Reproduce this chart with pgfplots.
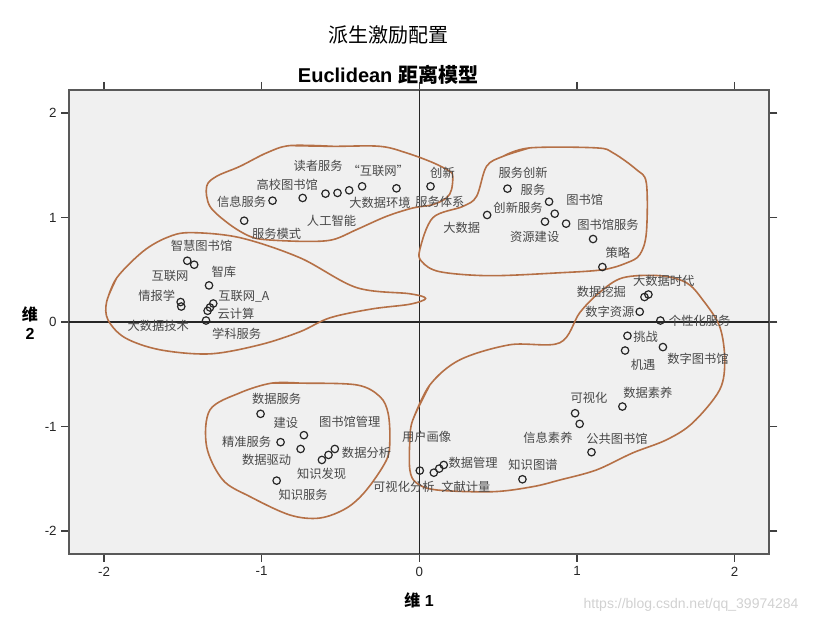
\documentclass[border=0pt]{standalone}
\usepackage{pgfplots}
\pgfplotsset{compat=1.18}
\usepackage{fontspec}
\setmainfont{Liberation Sans}
\newfontfamily\cjk{Noto Sans CJK SC}
\definecolor{loopc}{RGB}{181,112,70}
\definecolor{bg}{RGB}{240,240,240}
\definecolor{lab}{RGB}{72,72,72}
\newcommand{\lbl}[3]{\node[font=\cjk\fontsize{9.2}{10}\selectfont, text=lab, inner sep=0pt] at (axis cs:#1,#2) {#3};}
\begin{document}
\begin{tikzpicture}[x=1pt,y=1pt]
\useasboundingbox (-52,-51.75) rectangle (564.5,415.5);
\begin{axis}[at={(0,0)}, anchor=south west, scale only axis,
  width=525pt, height=348pt,
  xmin=-2.22, xmax=2.22, ymin=-2.22, ymax=2.22,
  xtick={-2,-1,0,1,2}, ytick={-2,-1,0,1,2},
  xticklabels={-2,-1,0,1,2}, yticklabels={-2,-1,0,1,2},
  tick align=outside, major tick length=6pt,
  tick style={black!75, line width=0.9pt},
  axis line style={black!65, line width=1.3pt},
  axis background/.style={fill=bg},
  ticklabel style={font=\fontsize{10}{12}\selectfont, text=black!85},
  clip=false,
]
% zero lines
\addplot[black!85, line width=1pt] coordinates {(-2.22,0) (2.22,0)};
\addplot[black!85, line width=1pt] coordinates {(0,-2.22) (0,2.22)};

% hand-drawn cluster outlines
\addplot[loopc, line width=1.2pt, smooth, tension=0.55] coordinates {
(-0.821,1.688) (-0.548,1.681) (-0.250,1.681) (-0.081,1.618) (0.086,1.525) (0.193,1.442)
(0.212,1.394) (0.204,1.266) (0.172,1.187) (0.086,1.123) (-0.041,1.091) (-0.208,1.011)
(-0.398,0.884) (-0.548,0.788) (-0.715,0.771) (-0.969,0.787) (-1.074,0.819) (-1.201,0.931)
(-1.328,1.106) (-1.349,1.298) (-1.286,1.394) (-1.138,1.489) (-0.969,1.618) (-0.821,1.688) (-0.548,1.681)};
\addplot[loopc, line width=1.2pt, smooth, tension=0.55] coordinates {
(0.531,1.585) (0.700,1.666) (1.123,1.666) (1.229,1.618) (1.377,1.458) (1.440,1.330)
(1.440,0.852) (1.398,0.644) (1.313,0.564) (1.163,0.500) (0.891,0.471) (0.447,0.443)
(0.130,0.481) (0.016,0.577) (0.003,0.692) (0.086,0.998) (0.276,1.106) (0.363,1.202)
(0.426,1.489) (0.531,1.585) (0.700,1.666)};
\addplot[loopc, line width=1.2pt, smooth, tension=0.55] coordinates {
(-1.983,0.196) (-1.919,0.423) (-1.753,0.675) (-1.603,0.807) (-1.455,0.855) (-1.138,0.807)
(-0.758,0.615) (-0.400,0.330) (-0.060,0.270) (0.040,0.225) (-0.060,0.170) (-0.300,0.125)
(-0.567,0.040) (-0.758,-0.094)
(-1.011,-0.218) (-1.328,-0.305) (-1.645,-0.266) (-1.867,-0.151) (-1.975,0.021) (-1.983,0.196) (-1.919,0.423)};
\addplot[loopc, line width=1.2pt, smooth, tension=0.55] coordinates {
(-0.041,-0.936) (0.067,-0.602) (0.257,-0.362) (0.574,-0.218) (0.891,-0.199) (1.017,0.088)
(1.141,0.280) (1.290,0.423) (1.525,0.443) (1.694,0.376) (1.797,0.213) (1.905,-0.043)
(1.937,-0.362) (1.905,-0.649) (1.734,-0.965) (1.567,-1.128) (1.353,-1.253) (1.123,-1.416)
(0.891,-1.512) (0.719,-1.576) (0.466,-1.624) (0.109,-1.607) (-0.018,-1.540) (-0.060,-1.416)
(-0.060,-1.129) (-0.041,-0.936) (0.067,-0.602)};
\addplot[loopc, line width=1.2pt, smooth, tension=0.55] coordinates {
(-0.937,-0.585) (-0.758,-0.585) (-0.398,-0.602) (-0.250,-0.714) (-0.198,-0.873) (-0.187,-1.128)
(-0.208,-1.320) (-0.335,-1.607) (-0.461,-1.780) (-0.631,-1.876) (-0.821,-1.847) (-1.074,-1.671)
(-1.246,-1.512) (-1.349,-1.193) (-1.328,-0.841) (-1.138,-0.678) (-0.937,-0.585) (-0.758,-0.585)};

% stimulus points
\addplot[only marks, mark=o, mark size=2.8pt, mark options={line width=0.9pt, draw=black!85}] table {
x y
-0.931 1.161
-1.111 0.969
-0.740 1.187
-0.595 1.228
-0.519 1.235
-0.445 1.260
-0.363 1.298
-0.145 1.279
0.071 1.298
0.559 1.276
0.430 1.024
0.823 1.151
0.859 1.036
0.797 0.960
0.931 0.941
1.102 0.794
1.161 0.526
-1.472 0.586
-1.428 0.548
-1.334 0.350
-1.514 0.191
-1.510 0.148
-1.307 0.177
-1.328 0.139
-1.343 0.107
-1.353 0.014
1.428 0.239
1.453 0.263
1.398 0.098
1.529 0.014
1.320 -0.132
1.305 -0.273
1.545 -0.240
-1.007 -0.879
-0.732 -1.083
-0.880 -1.150
-0.753 -1.215
-0.618 -1.320
-0.576 -1.272
-0.536 -1.215
-0.905 -1.518
0.003 -1.422
0.092 -1.442
0.126 -1.403
0.155 -1.368
0.654 -1.505
0.988 -0.873
1.017 -0.975
1.288 -0.809
1.092 -1.246
};

% labels
\lbl{-0.642}{1.496}{读者服务}
\lbl{-0.261}{1.442}{“互联网”}
\lbl{-0.838}{1.314}{高校图书馆}
\lbl{-1.127}{1.154}{信息服务}
\lbl{-0.250}{1.145}{大数据环境}
\lbl{0.130}{1.154}{服务体系}
\lbl{0.147}{1.426}{创新}
\lbl{-0.557}{0.972}{人工智能}
\lbl{-0.905}{0.842}{服务模式}
\lbl{0.658}{1.426}{服务创新}
\lbl{0.721}{1.266}{服务}
\lbl{0.269}{0.902}{大数据}
\lbl{1.049}{1.170}{图书馆}
\lbl{1.197}{0.931}{图书馆服务}
\lbl{0.626}{1.091}{创新服务}
\lbl{0.732}{0.813}{资源建设}
\lbl{1.260}{0.660}{策略}
\lbl{-1.381}{0.733}{智慧图书馆}
\lbl{-1.239}{0.484}{智库}
\lbl{-1.582}{0.436}{互联网}
\lbl{-1.666}{0.254}{情报学}
\lbl{-1.113}{0.244}{互联网\_A}
\lbl{-1.163}{0.076}{云计算}
\lbl{-1.656}{-0.036}{大数据技术}
\lbl{-1.159}{-0.116}{学科服务}
\lbl{1.550}{0.398}{大数据时代}
\lbl{1.155}{0.286}{数据挖掘}
\lbl{1.208}{0.101}{数字资源}
\lbl{1.778}{0.011}{个性化服务}
\lbl{1.436}{-0.139}{挑战}
\lbl{1.419}{-0.410}{机遇}
\lbl{1.767}{-0.352}{数字图书馆}
\lbl{-0.905}{-0.738}{数据服务}
\lbl{-0.846}{-0.968}{建设}
\lbl{-0.441}{-0.953}{图书馆管理}
\lbl{-1.095}{-1.150}{精准服务}
\lbl{-0.969}{-1.320}{数据驱动}
\lbl{-0.335}{-1.250}{数据分析}
\lbl{-0.620}{-1.454}{知识发现}
\lbl{-0.737}{-1.655}{知识服务}
\lbl{0.046}{-1.097}{用户画像}
\lbl{0.341}{-1.352}{数据管理}
\lbl{-0.098}{-1.579}{可视化分析}
\lbl{0.295}{-1.579}{文献计量}
\lbl{0.721}{-1.368}{知识图谱}
\lbl{1.076}{-0.729}{可视化}
\lbl{1.450}{-0.675}{数据素养}
\lbl{0.816}{-1.112}{信息素养}
\lbl{1.254}{-1.119}{公共图书馆}
\end{axis}
% titles and axis names
\node[font=\cjk\fontsize{15}{17}\selectfont] at (239,389.25) {派生激励配置};
\node[font=\bfseries\fontsize{15}{17}\selectfont] at (239,359.25) {Euclidean {\cjk\bfseries 距离模型}};
\node[font=\bfseries\fontsize{12}{14}\selectfont] at (262.3,-34.5) {{\cjk\bfseries 维} 1};
\node[font=\bfseries\fontsize{12}{15}\selectfont, align=center] at (-29.5,173.25) {{\cjk\bfseries 维}\\[-1pt]2};
\node[font=\fontsize{10.5}{12}\selectfont, text=black!18] at (466.3,-38.25) {https://blog.csdn.net/qq\_39974284};
\end{tikzpicture}
\end{document}
